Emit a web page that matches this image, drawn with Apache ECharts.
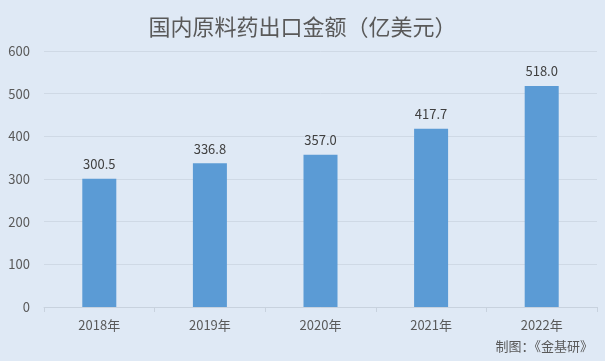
<!DOCTYPE html>
<html><head><meta charset="utf-8">
<script src="https://cdn.jsdelivr.net/npm/echarts@6/dist/echarts.min.js"></script>
<style>html,body{margin:0;padding:0;background:#dfe9f5}#c{width:605px;height:361px}</style>
</head><body><div id="c"></div>
<script>
const categories = ['2018年','2019年','2020年','2021年','2022年'];
const values = [300.5, 336.8, 357.0, 417.7, 518.0];
const titleText = '国内原料药出口金额（亿美元）';
const sourceText = '制图：《金基研》';
const font = '"Noto Sans CJK SC", "Microsoft YaHei", sans-serif';
const chart = echarts.init(document.getElementById('c'), null, {renderer:'canvas'});
chart.setOption({
  backgroundColor: '#dfe9f5',
  animation: false,
  title: [{
    text: titleText, left: 'center', top: 11,
    textStyle: {fontFamily: font, fontSize: 22, fontWeight: 'normal', color: '#595959'}
  },{
    text: sourceText, right: 7, bottom: 3,
    textStyle: {fontFamily: font, fontSize: 13, fontWeight: 'normal', color: '#595959'}
  }],
  grid: {left: 44, right: 8, top: 51, bottom: 54},
  xAxis: {
    type: 'category', data: categories,
    axisLine: {lineStyle: {color: '#c8d2de'}},
    axisTick: {show: true, alignWithLabel: false, lineStyle: {color: '#c8d2de'}},
    axisLabel: {fontFamily: font, fontSize: 13, color: '#595959', margin: 12}
  },
  yAxis: {
    type: 'value', min: 0, max: 600, interval: 100,
    axisLine: {show: false}, axisTick: {show: false},
    splitLine: {lineStyle: {color: '#cfd9e5'}},
    axisLabel: {fontFamily: font, fontSize: 13, color: '#595959', margin: 14}
  },
  series: [{
    type: 'bar', data: values, barWidth: 34,
    itemStyle: {color: '#5b9bd5'},
    label: {show: true, position: 'top', distance: 8, fontFamily: font, fontSize: 13, color: '#404040',
      formatter: p => p.value.toFixed(1)}
  }]
});
</script></body></html>
